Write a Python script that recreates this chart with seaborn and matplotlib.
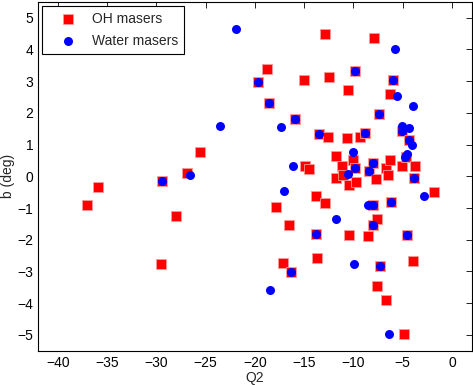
import numpy as np
import pandas as pd
import matplotlib
matplotlib.use('Agg')
import matplotlib.pyplot as plt
import seaborn as sns

# OH masers (Q2, b)
oh_q2 = [-37.1, -35.9, -29.4, -29.5, -28.0, -26.9, -25.6, -18.8, -19.7, -18.6,
         -17.9, -17.2, -16.5, -16.3, -15.9, -15.0, -14.9, -14.5, -13.8, -13.8,
         -13.7, -13.5, -12.9, -12.9, -12.6, -12.5, -11.8, -11.2, -11.8, -11.1,
         -10.7, -10.5, -10.4, -10.4, -10.0, -9.8, -9.8, -9.7, -9.3, -8.8,
         -8.4, -8.5, -8.0, -8.0, -8.0, -7.9, -7.7, -7.6, -7.6, -7.4,
         -7.3, -6.7, -6.7, -6.5, -6.3, -6.3, -6.2, -6.0, -5.1, -5.1,
         -4.9, -4.7, -4.6, -4.4, -3.9, -3.8, -3.7, -1.8]
oh_b = [-0.90, -0.35, -0.14, -2.77, -1.25, 0.12, 0.77, 3.40, 2.98, 2.32,
        -0.96, -2.72, -1.52, -3.03, 1.82, 3.04, 0.32, 0.22, -0.61, -1.82,
        -2.56, 1.33, 4.50, -0.85, 1.24, 3.14, 0.64, 0.32, -0.05, 0.03,
        1.22, 2.71, -0.27, -1.85, 0.52, 3.33, 0.25, -0.17, 1.25, 1.38,
        0.18, -1.88, 0.43, -0.89, -1.54, 4.35, -0.09, -1.35, -3.45, 1.96,
        -2.84, 0.25, -3.89, 0.05, 0.50, 2.60, -0.80, 3.04, 0.33, 1.44,
        -4.98, 0.62, -1.86, 1.13, -2.67, -0.04, 0.33, -0.50]

# Water masers (Q2, b)
h2o_q2 = [-29.4, -26.6, -23.5, -21.9, -19.7, -18.6, -18.5, -17.4, -17.0, -16.3,
          -16.1, -15.9, -13.8, -13.5, -11.8, -10.5, -10.0, -9.9, -9.8, -9.8,
          -8.8, -8.5, -8.4, -8.0, -8.0, -8.0, -7.4, -7.3, -6.4, -6.2,
          -6.0, -5.8, -5.6, -5.1, -5.1, -4.4, -4.4, -4.1, -4.8, -4.6,
          -4.6, -3.9, -3.8, -2.8]
h2o_b = [-0.14, 0.03, 1.59, 4.65, 2.98, 2.32, -3.59, 1.55, -0.47, -3.03,
         0.32, 1.82, -1.82, 1.33, -1.33, 0.06, 0.78, -2.75, 3.33, 0.25,
         1.38, -0.90, 0.18, 0.43, -0.89, -1.54, 1.96, -2.84, -4.98, -0.80,
         3.04, 4.02, 2.54, 1.60, 1.44, 1.53, 1.13, 1.00, 0.60, 0.70,
         -1.86, 2.23, -0.04, -0.61]

df_oh = pd.DataFrame({'Q2': oh_q2, 'b': oh_b})
df_h2o = pd.DataFrame({'Q2': h2o_q2, 'b': h2o_b})

sns.set_style('white')
plt.rcParams['font.family'] = ['Liberation Sans', 'DejaVu Sans']
plt.rcParams['font.size'] = 10

fig = plt.figure(figsize=(4.73, 3.85), dpi=100)
ax = fig.add_axes([0.081, 0.089, 0.916, 0.906])

sns.scatterplot(data=df_oh, x='Q2', y='b', marker='s', color='#ff0000', s=52,
                linewidth=0.6, edgecolor='#ff9999', label='OH masers', ax=ax, zorder=2)
sns.scatterplot(data=df_h2o, x='Q2', y='b', marker='o', color='#0000ff', s=42,
                linewidth=0, label='Water masers', ax=ax, zorder=3)

ax.set_xlim(-42, 2)
ax.set_ylim(-5.5, 5.5)
ax.set_xticks(range(-40, 1, 5))
ax.set_yticks(range(-5, 6))
ax.set_xlabel('Q2', fontsize=10, labelpad=1)
ax.set_ylabel('b (deg)', fontsize=10, labelpad=2)
ax.tick_params(direction='in', top=True, right=True, length=4, width=0.6,
               labelsize=10, colors='black')
for sp in ax.spines.values():
    sp.set_color('black')
    sp.set_linewidth(0.8)

leg = ax.legend(loc='upper left', frameon=True, fancybox=False, framealpha=1,
                edgecolor='black', handlelength=2.9, handletextpad=0.25,
                borderpad=0.4, labelspacing=0.6, fontsize=10, borderaxespad=0.3)
leg.get_frame().set_linewidth(0.8)

fig.savefig('out.png', dpi=100)
